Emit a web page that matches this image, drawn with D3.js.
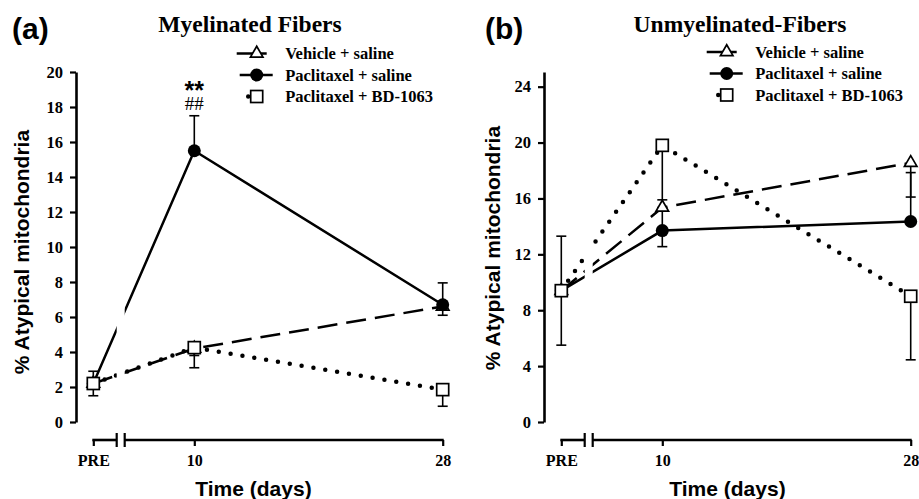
<!DOCTYPE html>
<html>
<head>
<meta charset="utf-8">
<script src="https://cdn.jsdelivr.net/npm/d3@7"></script>
<style>
  html, body { margin: 0; padding: 0; background: #fff; }
  svg { display: block; }
</style>
</head>
<body>
<svg id="chart" width="919" height="499"></svg>
<script>
// ---------------- DATA ----------------
const timeValues = [0, 10, 28];
const timeLabels = ["PRE", "10", "28"];
const seriesNames = ["Vehicle + saline", "Paclitaxel + saline", "Paclitaxel + BD-1063"];

// Panel (a) Myelinated fibers
const myelVehicle = [2.2, 4.2, 6.6];
const myelVehicleErr = [[null, 2.9], [3.1, null], [6.1, null]]; // [lower end, upper end]
const myelPaclitaxel = [2.2, 15.5, 6.7];
const myelPaclitaxelErr = [[null, null], [null, 17.5], [null, 7.95]];
const myelBD = [2.2, 4.25, 1.85];
const myelBDErr = [[1.5, null], [3.8, null], [0.9, null]];
const myelTicks = [0, 2, 4, 6, 8, 10, 12, 14, 16, 18, 20];

// Panel (b) Unmyelinated fibers
const unmyVehicle = [9.4, 15.35, 18.55];
const unmyVehicleErr = [[null, null], [null, null], [16.1, null]];
const unmyPaclitaxel = [9.4, 13.7, 14.35];
const unmyPaclitaxelErr = [[null, null], [12.55, 15.35], [null, 17.85]];
const unmyBD = [9.4, 19.8, 9.0];
const unmyBDErr = [[5.5, 13.3], [15.9, null], [4.45, null]];
const unmyTicks = [0, 4, 8, 12, 16, 20, 24];

// ---------------- DRAWING ----------------
const svg = d3.select("#chart");
const SERIF = "'Liberation Serif', 'Times New Roman', serif";
const SANS = "'Liberation Sans', Arial, sans-serif";

const styles = [
  { dash: "20,9", width: 2.5, cap: "butt", marker: "triangle" },
  { dash: null, width: 2.5, cap: "butt", marker: "circle" },
  { dash: "0,12", width: 4.5, cap: "round", marker: "square" }
];

function drawPanel(cfg) {
  const g = svg.append("g");
  const ox = cfg.ox;
  const x = d3.scaleLinear().domain(timeValues).range([93.3 + ox, 194.3 + ox, 442.7 + ox]);
  const y = d3.scaleLinear().domain([0, cfg.yMax]).range([422, 72]);
  const axisY = 440;
  const brk1 = x(0) + 23.4, brk2 = x(0) + 31.4;

  // Y axis
  const ya = g.append("g").attr("transform", `translate(${76 + ox},0)`)
    .call(d3.axisLeft(y).tickValues(cfg.ticks).tickSize(6).tickSizeOuter(0).tickPadding(7));
  ya.select(".domain").attr("stroke-width", 2.6);
  ya.selectAll(".tick line").attr("stroke-width", 2.2);
  ya.selectAll(".tick text").attr("font-family", SERIF).attr("font-weight", "bold")
    .attr("font-size", 16.5).attr("fill", "#000");

  // X axis (broken)
  const xa = g.append("g").attr("transform", `translate(0,${axisY})`)
    .call(d3.axisBottom(x).tickValues(timeValues).tickFormat((d, i) => timeLabels[i])
      .tickSize(6).tickSizeOuter(0).tickPadding(9));
  xa.select(".domain").remove();
  xa.selectAll(".tick line").attr("stroke-width", 2.2);
  xa.selectAll(".tick text").attr("font-family", SERIF).attr("font-weight", "bold")
    .attr("font-size", 16).attr("fill", "#000");
  xa.append("line").attr("x1", x(0) - 1).attr("x2", brk1).attr("y1", 0).attr("y2", 0)
    .attr("stroke", "#000").attr("stroke-width", 2.6);
  xa.append("line").attr("x1", brk2).attr("x2", x(28) + 1).attr("y1", 0).attr("y2", 0)
    .attr("stroke", "#000").attr("stroke-width", 2.6);
  [brk1, brk2].forEach(b => xa.append("line").attr("x1", b).attr("x2", b)
    .attr("y1", -7).attr("y2", 7).attr("stroke", "#000").attr("stroke-width", 2.2));

  // Clip path that removes the break region
  const clipId = "clip" + cfg.id;
  const cp = svg.append("defs").append("clipPath").attr("id", clipId);
  cp.append("rect").attr("x", ox).attr("y", 0).attr("width", brk1 - ox).attr("height", 499);
  cp.append("rect").attr("x", brk2).attr("y", 0).attr("width", 470).attr("height", 499);

  // Error bars
  const eb = g.append("g").attr("stroke", "#000").attr("stroke-width", 1.6);
  cfg.series.forEach(s => {
    s.err.forEach((e, i) => {
      const cx = x(timeValues[i]);
      e.forEach(end => {
        if (end === null) return;
        eb.append("line").attr("x1", cx).attr("x2", cx).attr("y1", y(s.values[i])).attr("y2", y(end));
        eb.append("line").attr("x1", cx - 5).attr("x2", cx + 5).attr("y1", y(end)).attr("y2", y(end));
      });
    });
  });

  // Lines
  const line = d3.line().x((d, i) => x(timeValues[i])).y(d => y(d));
  const lg = g.append("g").attr("clip-path", `url(#${clipId})`);
  cfg.series.forEach((s, k) => {
    const st = styles[k];
    lg.append("path").datum(s.values).attr("d", line).attr("fill", "none")
      .attr("stroke", "#000").attr("stroke-width", st.width)
      .attr("stroke-dasharray", st.dash).attr("stroke-linecap", st.cap);
  });

  // Markers (triangles, circles, squares)
  const mg = g.append("g");
  function marker(sel, type, cx, cy) {
    if (type === "triangle") {
      sel.append("path").attr("d", d3.symbol(d3.symbolTriangle, 68)())
        .attr("transform", `translate(${cx},${cy})`)
        .attr("fill", "#fff").attr("stroke", "#000").attr("stroke-width", 1.7);
    } else if (type === "circle") {
      sel.append("circle").attr("cx", cx).attr("cy", cy).attr("r", 6.5).attr("fill", "#000");
    } else {
      sel.append("rect").attr("x", cx - 6).attr("y", cy - 6).attr("width", 12).attr("height", 12)
        .attr("fill", "#fff").attr("stroke", "#000").attr("stroke-width", 1.7);
    }
  }
  cfg.series.forEach((s, k) => {
    s.values.forEach((v, i) => marker(mg, styles[k].marker, x(timeValues[i]), y(v)));
  });

  // Legend
  const leg = g.append("g");
  seriesNames.forEach((name, k) => {
    const ly = cfg.legY + k * 21.5;
    const sx = cfg.legX;
    if (k === 0) {
      leg.append("line").attr("x1", sx - 20).attr("x2", sx + 10).attr("y1", ly).attr("y2", ly)
        .attr("stroke", "#000").attr("stroke-width", 2.5);
    } else if (k === 1) {
      leg.append("line").attr("x1", sx - 17).attr("x2", sx + 16).attr("y1", ly).attr("y2", ly)
        .attr("stroke", "#000").attr("stroke-width", 2.5);
    } else {
      leg.append("circle").attr("cx", sx - 8.5).attr("cy", ly).attr("r", 2.2).attr("fill", "#000");
    }
    marker(leg, styles[k].marker, sx, ly);
    leg.append("text").attr("x", cfg.legX + 28.5).attr("y", ly + 5.6).text(name)
      .attr("font-family", SERIF).attr("font-weight", "bold").attr("font-size", 16.5);
  });

  // Titles and labels
  g.append("text").attr("x", cfg.titleX).attr("y", 32).attr("text-anchor", "middle")
    .attr("font-family", SERIF).attr("font-weight", "bold").attr("font-size", 23.5).text(cfg.title);
  g.append("text").attr("x", cfg.letterX).attr("y", 39)
    .attr("font-family", SANS).attr("font-weight", "bold").attr("font-size", 30).text(cfg.letter);
  g.append("text").attr("transform", `translate(${cfg.yLabelX},${cfg.yLabelY}) rotate(-90)`)
    .attr("text-anchor", "middle").attr("font-family", SANS).attr("font-weight", "bold")
    .attr("font-size", 21).text("% Atypical mitochondria");
  g.append("text").attr("x", cfg.xLabelX).attr("y", 495.5).attr("text-anchor", "middle")
    .attr("font-family", SANS).attr("font-weight", "bold").attr("font-size", 21).text("Time (days)");

  return { x, y };
}

const pa = drawPanel({
  id: "a", ox: 0, yMax: 20, ticks: myelTicks,
  series: [
    { values: myelVehicle, err: myelVehicleErr },
    { values: myelPaclitaxel, err: myelPaclitaxelErr },
    { values: myelBD, err: myelBDErr }
  ],
  legX: 256.7, legY: 53.5, title: "Myelinated Fibers", titleX: 250,
  letter: "(a)", letterX: 12, yLabelX: 29, yLabelY: 252, xLabelX: 253.5
});

// Significance marks above the 10-day paclitaxel point (one text block, two lines)
const sigX = pa.x(10), sigTop = pa.y(myelPaclitaxelErr[1][1]);
const sig = svg.append("text").attr("text-anchor", "middle");
sig.append("tspan").attr("x", sigX).attr("y", sigTop - 17)
  .attr("font-family", SANS).attr("font-weight", "bold").attr("font-size", 25).text("**");
sig.append("tspan").attr("x", sigX).attr("y", sigTop - 5.5)
  .attr("font-family", SERIF).attr("font-size", 19).text("##");

drawPanel({
  id: "b", ox: 468, yMax: 25.05, ticks: unmyTicks,
  series: [
    { values: unmyVehicle, err: unmyVehicleErr },
    { values: unmyPaclitaxel, err: unmyPaclitaxelErr },
    { values: unmyBD, err: unmyBDErr }
  ],
  legX: 726.7, legY: 52, title: "Unmyelinated-Fibers", titleX: 740,
  letter: "(b)", letterX: 485, yLabelX: 500, yLabelY: 248, xLabelX: 727.5
});
</script>
</body>
</html>
